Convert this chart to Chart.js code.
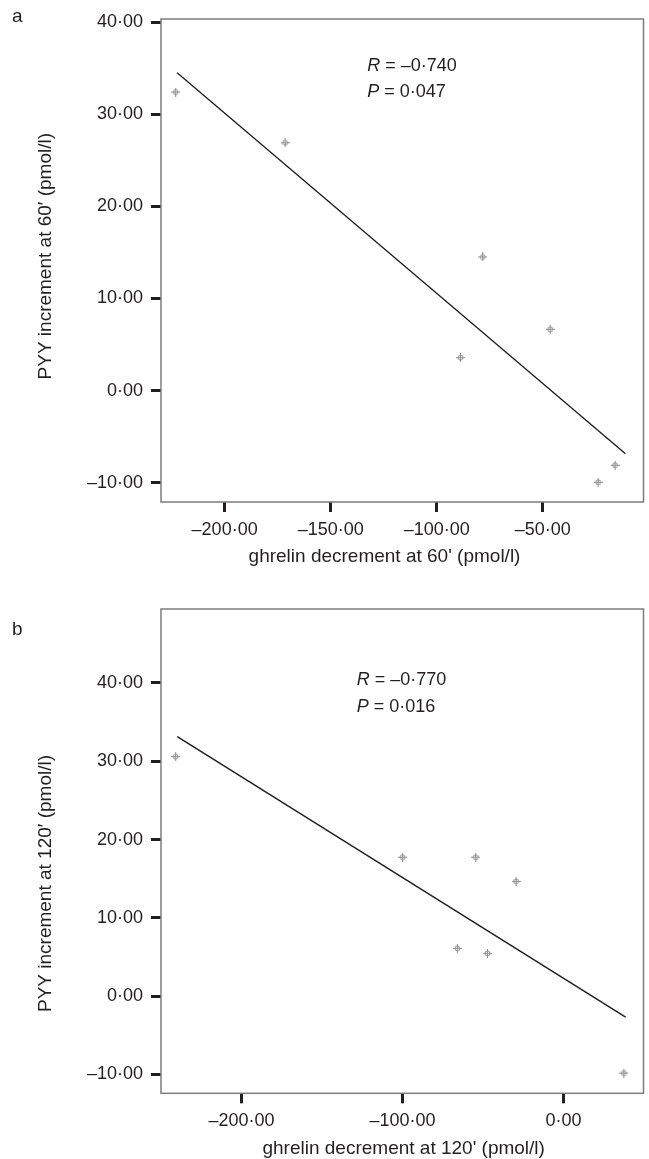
<!DOCTYPE html>
<html><head><meta charset="utf-8">
<script src="https://cdn.jsdelivr.net/npm/chart.js@4.4.0/dist/chart.umd.min.js"></script>
<style>
html,body{margin:0;padding:0;background:#fff;}
body{width:649px;height:1159px;position:relative;overflow:hidden;}
.wrap{position:absolute;left:0;width:649px;}
#wa{top:0;height:580px;}
#wb{top:580px;height:579px;}
canvas{display:block;}
</style></head><body>
<div class="wrap" id="wa"><canvas id="ca" width="649" height="580"></canvas></div>
<div class="wrap" id="wb"><canvas id="cb" width="649" height="579"></canvas></div>
<script>
// ---- Panel a: ghrelin decrement at 60' vs PYY increment at 60'
const a_ghrelin = [-223.1, -171.5, -88.8, -78.3, -46.5, -23.9, -15.9];
const a_pyy     = [32.4, 26.9, 3.57, 14.5, 6.65, -9.96, -8.11];
const a_fitX    = [-222.4, -11.0];
const a_fitY    = [34.5, -6.85];
const a_xTicks  = [-200, -150, -100, -50];
const a_yTicks  = [-10, 0, 10, 20, 30, 40];

// ---- Panel b: ghrelin decrement at 120' vs PYY increment at 120'
const b_ghrelin = [-240.9, -100, -54.6, -29.5, -66.0, -47.3, 37.4];
const b_pyy     = [30.6, 17.75, 17.75, 14.66, 6.11, 5.47, -9.82];
const b_fitX    = [-239.9, 38.5];
const b_fitY    = [33.15, -2.67];
const b_xTicks  = [-200, -100, 0];
const b_yTicks  = [-10, 0, 10, 20, 30, 40];

const FONT = '"Liberation Sans", Arial, Helvetica, sans-serif';
const INK = '#231f20';

function fmt(v){
  const s = Math.abs(v).toFixed(2).replace('.', '\u00B7');
  return v < 0 ? '\u2013' + s : s;
}
function marker(){
  const c = document.createElement('canvas');
  c.width = 9; c.height = 9;
  const g = c.getContext('2d');
  g.strokeStyle = '#8f8f8f'; g.lineWidth = 1;
  g.beginPath(); g.arc(4.5, 4.5, 2.5, 0, Math.PI * 2); g.stroke();
  g.beginPath(); g.moveTo(4.5, 0); g.lineTo(4.5, 9); g.moveTo(0, 4.5); g.lineTo(9, 4.5); g.stroke();
  return c;
}
const MARK = marker();

const decor = {
  id: 'decor',
  afterDatasetsDraw(chart, args, o){
    const ctx = chart.ctx, a = chart.chartArea;
    ctx.save();
    ctx.strokeStyle = '#7d7d7d'; ctx.lineWidth = 1.5;
    ctx.strokeRect(a.left, a.top, a.right - a.left, a.bottom - a.top);
    ctx.fillStyle = INK;
    ctx.textBaseline = 'alphabetic';
    ctx.font = '19px ' + FONT;
    ctx.textAlign = 'left';
    ctx.fillText(o.letter, o.letterX, o.letterY);
    ctx.textAlign = 'center';
    ctx.fillText(o.xTitle, o.xTitleX, o.xTitleY);
    ctx.save();
    ctx.translate(o.yTitleX, o.yTitleY);
    ctx.rotate(-Math.PI / 2);
    ctx.textAlign = 'right';
    ctx.fillText(o.yTitle, 0, 0);
    ctx.restore();
    ctx.textAlign = 'left';
    o.stats.forEach(function(s){
      ctx.font = 'italic 18px ' + FONT;
      ctx.fillText(s.k, o.statX, s.y);
      const w = ctx.measureText(s.k).width;
      ctx.font = '18px ' + FONT;
      ctx.fillText(s.v, o.statX + w, s.y);
    });
    ctx.restore();
  }
};

function axis(min, max, ticks, isX, size){
  return {
    type: 'linear', min: min, max: max,
    afterBuildTicks: function(s){ s.ticks = ticks.map(function(v){ return {value: v}; }); },
    afterFit: function(s){ if (isX) s.height = size; else s.width = size; },
    grid: {drawOnChartArea: false, drawTicks: true, tickLength: 10, tickWidth: 3, tickColor: INK},
    border: {display: false},
    ticks: {padding: isX ? 7 : 8, color: INK, font: {family: FONT, size: 18},
            maxRotation: 0, autoSkip: false, callback: function(v){ return fmt(v); }}
  };
}

function build(id, xs, ys, fx, fy, xr, yr, xt, yt, topPad, xAxisH, deco){
  const pts = xs.map(function(x, i){ return {x: x, y: ys[i]}; });
  const fit = fx.map(function(x, i){ return {x: x, y: fy[i]}; });
  return new Chart(document.getElementById(id), {
    type: 'scatter',
    data: {datasets: [
      {data: fit, showLine: true, borderColor: '#1a1a1a', borderWidth: 1.3, pointRadius: 0, fill: false, order: 2},
      {data: pts, pointStyle: MARK, pointRadius: 4.5, order: 1}
    ]},
    options: {
      responsive: false, animation: false, devicePixelRatio: 1,
      layout: {padding: {left: 0, right: 3, top: topPad, bottom: 0}},
      plugins: {legend: {display: false}, tooltip: {enabled: false}, decor: deco},
      scales: {x: axis(xr[0], xr[1], xt, true, xAxisH), y: axis(yr[0], yr[1], yt, false, 161)}
    },
    plugins: [decor]
  });
}

build('ca', a_ghrelin, a_pyy, a_fitX, a_fitY, [-230, -2.5], [-12.1, 40.33], a_xTicks, a_yTicks, 19, 78, {
  letter: 'a', letterX: 12, letterY: 21.7,
  xTitle: "ghrelin decrement at 60' (pmol/l)", xTitleX: 384.5, xTitleY: 561.5,
  yTitle: 'PYY increment at 60\u2032 (pmol/l)', yTitleX: 51, yTitleY: 133,
  statX: 367.3, stats: [{k: 'R', v: ' = \u20130\u00B7740', y: 70.7}, {k: 'P', v: ' = 0\u00B7047', y: 97.3}]
});

build('cb', b_ghrelin, b_pyy, b_fitX, b_fitY, [-250, 49.6], [-12.4, 49.45], b_xTicks, b_yTicks, 29, 65.7, {
  letter: 'b', letterX: 12, letterY: 55,
  xTitle: "ghrelin decrement at 120' (pmol/l)", xTitleX: 403.7, xTitleY: 574,
  yTitle: 'PYY increment at 120\u2032 (pmol/l)', yTitleX: 51, yTitleY: 175,
  statX: 356.7, stats: [{k: 'R', v: ' = \u20130\u00B7770', y: 105}, {k: 'P', v: ' = 0\u00B7016', y: 131.7}]
});
</script>
</body></html>
